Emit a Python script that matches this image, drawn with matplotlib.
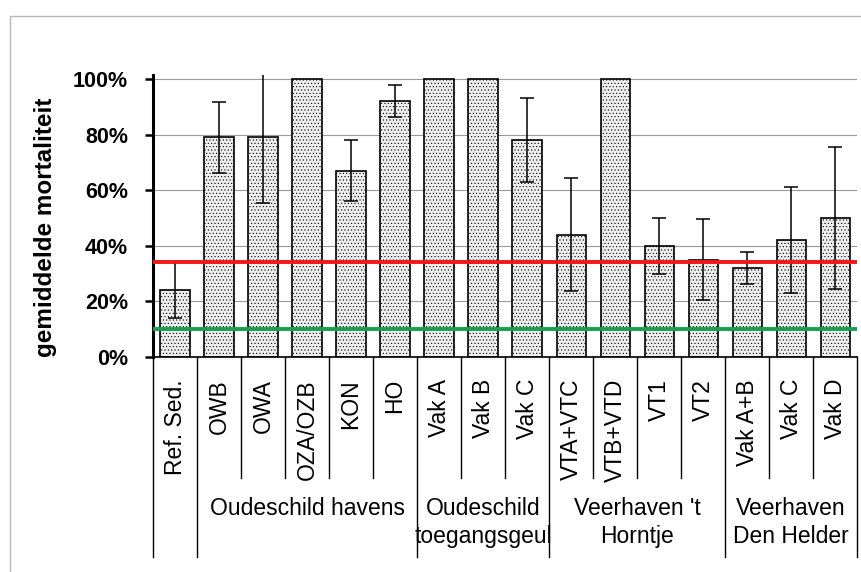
import matplotlib
matplotlib.use('Agg')
import matplotlib.pyplot as plt
from matplotlib.patches import Rectangle
from matplotlib.transforms import blended_transform_factory

plt.rcParams['font.family'] = ['Liberation Sans', 'DejaVu Sans']
plt.rcParams['hatch.color'] = '#cccccc'
plt.rcParams['hatch.linewidth'] = 0.4

# gemiddelde mortaliteit per locatie (%) met spreiding
locaties = ['Ref. Sed.', 'OWB', 'OWA', 'OZA/OZB', 'KON', 'HO',
            'Vak A', 'Vak B', 'Vak C',
            'VTA+VTC', 'VTB+VTD', 'VT1', 'VT2',
            'Vak A+B', 'Vak C', 'Vak D']
mortaliteit = [24, 79, 79, 100, 67, 92, 100, 100, 78, 44, 100, 40, 35, 32, 42, 50]
spreiding = [10, 12.7, 23.5, None, 11, 5.7, None, None, 15, 20.3, None, 10, 14.6, 5.6, 19, 25.7]

groepen = ['', 'Oudeschild havens', 'Oudeschild\ntoegangsgeul',
           "Veerhaven 't\nHorntje", 'Veerhaven\nDen Helder']
groep_start = [0, 1, 6, 9, 13, 16]

grens_rood = 34
grens_groen = 10

fig = plt.figure(figsize=(8.61, 5.72), dpi=100)
fig.patch.set_facecolor('white')

# lichtgrijze kader rond de figuur
fig.patches.append(Rectangle((0.0116, -0.1), 1.2, 1.072, transform=fig.transFigure,
                             fill=False, edgecolor='#b8b8b8', lw=1.0))

ax = fig.add_axes([0.1777, 0.3759, 0.8177, 0.4933])
x = list(range(len(locaties)))

ax.bar(x, mortaliteit, width=0.66, facecolor='#eeeeee', edgecolor='black',
       linewidth=1.2, hatch='.....', zorder=2)

ex = [i for i in x if spreiding[i] is not None]
ey = [mortaliteit[i] for i in ex]
ee = [spreiding[i] for i in ex]
ax.errorbar(ex, ey, yerr=ee, fmt='none', ecolor='black', elinewidth=1.1,
            capsize=4.7, capthick=1.1, zorder=3)

ax.axhline(grens_rood, color='#f01818', lw=2.8, zorder=4)
ax.axhline(grens_groen, color='#16a050', lw=2.8, zorder=4)

ax.set_xlim(-0.5, len(locaties) - 0.5)
ax.set_ylim(0, 101.5)
ax.set_yticks([0, 20, 40, 60, 80, 100])
ax.set_yticklabels([f'{v}%' for v in [0, 20, 40, 60, 80, 100]],
                   fontsize=15.5, fontweight='bold')
ax.tick_params(axis='y', length=6, width=1.8, pad=12)
ax.tick_params(axis='x', length=0, labelbottom=False)
ax.yaxis.grid(True, color='#9a9a9a', lw=0.8)
ax.set_axisbelow(True)
for s in ['top', 'right']:
    ax.spines[s].set_visible(False)
ax.spines['left'].set_linewidth(2.2)
ax.spines['bottom'].set_linewidth(1.2)

ax.set_ylabel('gemiddelde mortaliteit', fontsize=17.5, fontweight='bold')
ax.yaxis.set_label_coords(-0.136, 0.46)

# categorie-tabel onder de as
trans = blended_transform_factory(ax.transData, ax.transAxes)
for i in range(len(locaties) + 1):
    lang = i in groep_start
    y_eind = -0.709 if lang else -0.429
    ax.plot([i - 0.5, i - 0.5], [0, y_eind], color='black', lw=1.0,
            transform=trans, clip_on=False)

for i, naam in enumerate(locaties):
    ax.text(i, -0.078, naam, rotation=90, ha='center', va='top', fontsize=16.5,
            transform=trans)

for g, naam in enumerate(groepen):
    if not naam:
        continue
    midden = (groep_start[g] + groep_start[g + 1] - 1) / 2
    ax.text(midden, -0.495, naam, ha='center', va='top', fontsize=16.5,
            linespacing=1.3, transform=trans)

fig.savefig('out.png', dpi=100, facecolor='white')
